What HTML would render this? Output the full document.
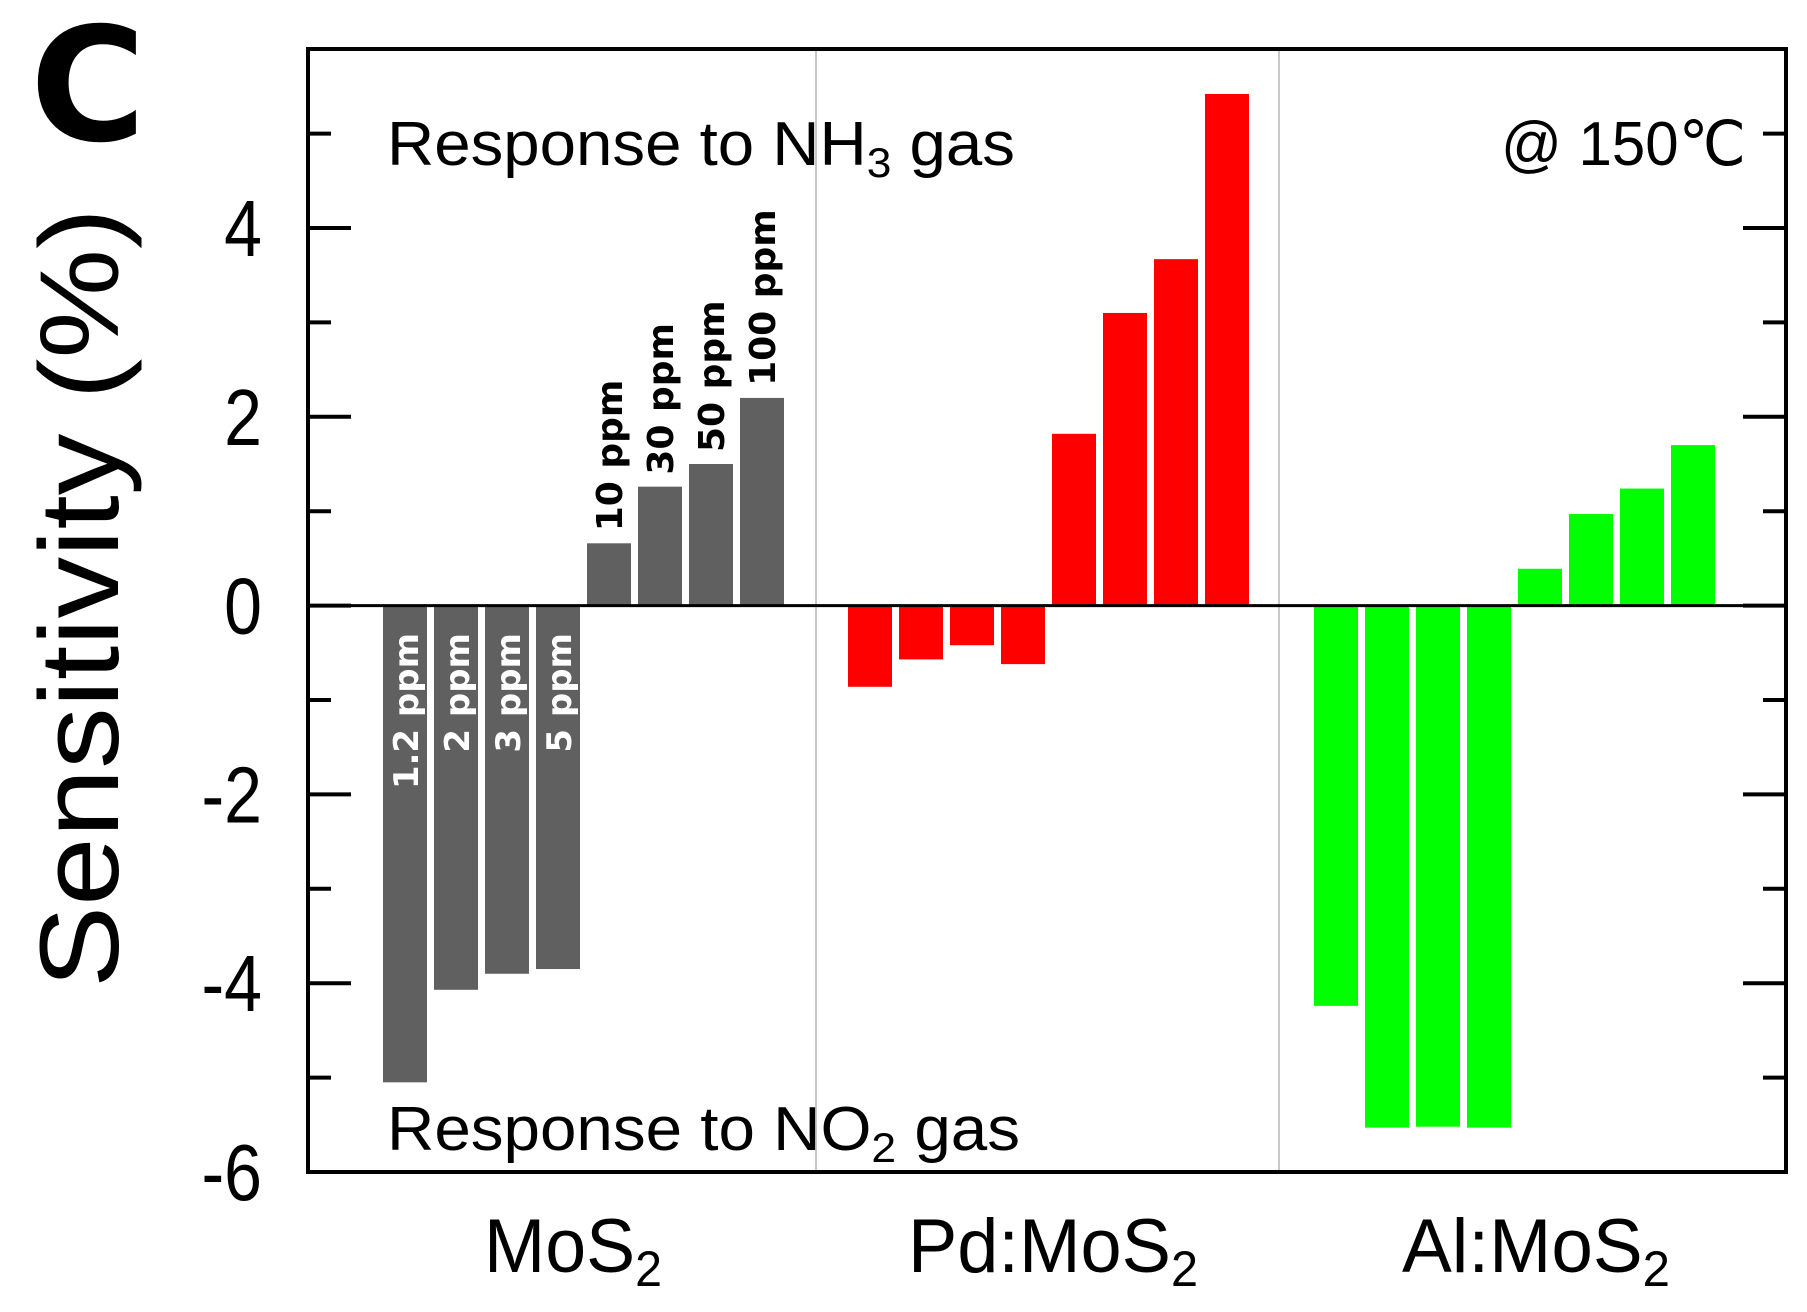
<!DOCTYPE html>
<html><head><meta charset="utf-8"><style>
html,body{margin:0;padding:0;background:#fff;}
svg{display:block;font-family:"Liberation Sans",Arial,sans-serif;}
</style></head><body>
<svg id="chart" width="1807" height="1312" viewBox="0 0 1807 1312" xmlns="http://www.w3.org/2000/svg">
<text x="30" y="140" font-size="158" font-weight="bold" font-family="'DejaVu Sans','Liberation Sans',sans-serif">C</text>
<text transform="translate(118,598) rotate(-90)" text-anchor="middle" font-size="112" textLength="780" lengthAdjust="spacingAndGlyphs">Sensitivity (%)</text>
<g id="plot"></g>
<text x="387" y="165" font-size="62" textLength="628" lengthAdjust="spacingAndGlyphs">Response to NH<tspan font-size="42" dy="12">3</tspan><tspan dy="-12"> gas</tspan></text>
<text x="1746" y="165" font-size="62" text-anchor="end" textLength="245" lengthAdjust="spacingAndGlyphs">@ 150℃</text>
<text x="387" y="1150" font-size="62" textLength="633" lengthAdjust="spacingAndGlyphs">Response to NO<tspan font-size="42" dy="12">2</tspan><tspan dy="-12"> gas</tspan></text>
<text x="484" y="1272" font-size="76" textLength="178" lengthAdjust="spacingAndGlyphs">MoS<tspan font-size="50" dy="14">2</tspan></text>
<text x="908" y="1272" font-size="76" textLength="290" lengthAdjust="spacingAndGlyphs">Pd:MoS<tspan font-size="50" dy="14">2</tspan></text>
<text x="1402" y="1272" font-size="76" textLength="268" lengthAdjust="spacingAndGlyphs">Al:MoS<tspan font-size="50" dy="14">2</tspan></text>
</svg>
<script>
const groups = ["MoS2", "Pd:MoS2", "Al:MoS2"];
const groupColors = ["#606060", "#ff0000", "#00ff00"];
const mos2Values = [-5.05, -4.07, -3.9, -3.85, 0.66, 1.26, 1.5, 2.2];
const pdValues = [-0.86, -0.57, -0.42, -0.62, 1.82, 3.1, 3.67, 5.42];
const alValues = [-4.24, -5.53, -5.52, -5.53, 0.39, 0.97, 1.24, 1.7];
const concLabels = ["1.2 ppm", "2 ppm", "3 ppm", "5 ppm", "10 ppm", "30 ppm", "50 ppm", "100 ppm"];
const yTicks = [-6, -4, -2, 0, 2, 4];
const yMinorTicks = [-5, -3, -1, 1, 3, 5];

const NS = "http://www.w3.org/2000/svg";
const L = 308, R = 1786, T = 49, B = 1172;
const zeroY = 605.6, unit = 94.4;
const y = v => zeroY - v * unit;
const groupStart = [383, 848, 1314];
const barStep = 51, barW = 44;
const x = (g, i) => groupStart[g] + i * barStep;
const plot = document.getElementById('plot');
function mk(tag, attrs) {
  const e = document.createElementNS(NS, tag);
  for (const k in attrs) e.setAttribute(k, attrs[k]);
  plot.appendChild(e);
  return e;
}
[816, 1279].forEach((dx) => {
  const l = mk('line', {x1: dx, x2: dx, y1: T, y2: B, stroke: '#c8c8c8', 'stroke-width': 2});
  
  
});
const series = [mos2Values, pdValues, alValues];
series.forEach((vals, g) => {
  vals.forEach((v, i) => {
    const top = Math.min(y(v), zeroY), h = Math.abs(y(v) - zeroY);
    const r = mk('rect', {x: x(g, i), y: top, width: barW, height: h, fill: groupColors[g]});
    
    
  });
});
concLabels.forEach((lab, i) => {
  const cx = x(0, i) + barW / 2 + 13;
  const v = mos2Values[i];
  let t;
  if (v < 0) {
    t = mk('text', {transform: `translate(${cx},633) rotate(-90)`, 'text-anchor': 'end', 'font-size': 34, 'font-weight': 'bold', fill: '#fff', 'font-family': "'DejaVu Sans','Liberation Sans',sans-serif"});
  } else {
    t = mk('text', {transform: `translate(${cx},${y(v) - 12}) rotate(-90)`, 'text-anchor': 'start', 'font-size': 36, 'font-weight': 'bold', fill: '#000', 'font-family': "'DejaVu Sans','Liberation Sans',sans-serif"});
  }
  t.textContent = lab;
  
  
});
const z = mk('line', {x1: L, x2: R, y1: zeroY, y2: zeroY, stroke: '#000', 'stroke-width': 3});


const f = mk('rect', {x: L, y: T, width: R - L, height: B - T, fill: 'none', stroke: '#000', 'stroke-width': 4});


yTicks.forEach(v => {
  const a = mk('line', {x1: L, x2: L + 43, y1: y(v), y2: y(v), stroke: '#000', 'stroke-width': 4});
  
  
  const b = mk('line', {x1: R - 43, x2: R, y1: y(v), y2: y(v), stroke: '#000', 'stroke-width': 4});
  
  
  const t = mk('text', {transform: `translate(262,${y(v) + 28}) scale(0.85,1)`, 'text-anchor': 'end', 'font-size': 80});
  t.textContent = String(v);
  
  
});
yMinorTicks.forEach(v => {
  const a = mk('line', {x1: L, x2: L + 23, y1: y(v), y2: y(v), stroke: '#000', 'stroke-width': 4});
  
  
  const b = mk('line', {x1: R - 23, x2: R, y1: y(v), y2: y(v), stroke: '#000', 'stroke-width': 4});
  
  
});
</script>
</body></html>
